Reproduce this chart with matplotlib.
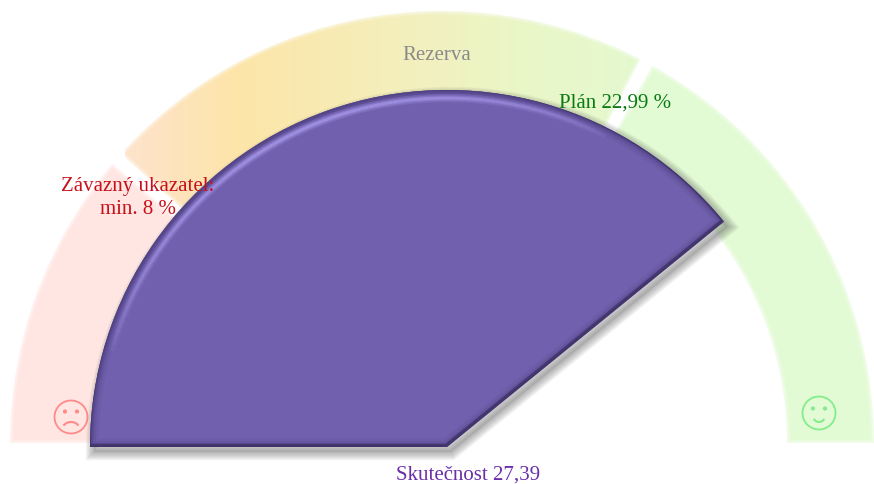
import numpy as np
import matplotlib
matplotlib.use("Agg")
import matplotlib.pyplot as plt
from matplotlib.patches import Wedge, Circle, Arc
from matplotlib.colors import LinearSegmentedColormap

# gauge values
scale_max = 35
minimum = 8
plan = 22.99
actual = 27.39

labels = ["Závazný ukazatel:\nmin. 8 %", "Rezerva", "Plán 22,99 %", "Skutečnost 27,39"]

plt.rcParams["font.family"] = ["Liberation Serif", "DejaVu Serif"]


def angle(v):
    # value -> degrees, 0 on the left going clockwise to the right
    return 180 - 180 * v / scale_max


fig = plt.figure(figsize=(8.74, 4.84), dpi=100)
ax = fig.add_axes([0, 0, 1, 1])
ax.set_xlim(0, 874)
ax.set_ylim(484, 0)
ax.axis("off")

# y axis is flipped, so wedges are drawn with negated angles
ring_c = (442, 443)
ring_r = 432
ring_w = 87
gap = 0.9


def ring(v0, v1, **kw):
    return Wedge(ring_c, ring_r, -angle(v0) + gap if v0 > 0 else -180,
                 -angle(v1) - gap if v1 < scale_max else 0,
                 width=ring_w, **kw)


ax.add_patch(ring(0, minimum, facecolor="#ffe6e2", edgecolor="none"))
ax.add_patch(ring(plan, scale_max, facecolor="#e3fbd4", edgecolor="none"))

# reserve band with its horizontal gradient
mid = ring(minimum, plan, facecolor="none", edgecolor="none")
ax.add_patch(mid)
cmap = LinearSegmentedColormap.from_list("reserve", [
    (0.0, "#fee3cc"), (0.22, "#fde5a8"), (0.52, "#f4efbc"),
    (0.78, "#e9f7c8"), (1.0, "#e4f9d0")])
img = ax.imshow(np.linspace(0, 1, 256).reshape(1, -1), cmap=cmap, aspect="auto",
                extent=(125, 650, 484, 0), zorder=1)
img.set_clip_path(mid)
ax.set_xlim(0, 874)
ax.set_ylim(484, 0)

# soften the band edges
for v0, v1 in [(0, minimum), (minimum, plan), (plan, scale_max)]:
    for lw, a in [(5, 0.2), (2.5, 0.35)]:
        ax.add_patch(ring(v0, v1, fc="none", ec="white", lw=lw, alpha=a, zorder=1.5))

# smileys
red = "#ff8a8a"
ax.add_patch(Circle((71, 417), 16.5, fc="none", ec=red, lw=1.3, zorder=2))
ax.add_patch(Circle((65, 411.5), 2.1, fc=red, ec="none", zorder=2))
ax.add_patch(Circle((77, 411.5), 2.1, fc=red, ec="none", zorder=2))
ax.add_patch(Arc((71, 430), 18, 16, theta1=-150, theta2=-30, ec=red, lw=1.5, zorder=2))

green = "#84ec8c"
ax.add_patch(Circle((819, 413), 16.5, fc="none", ec=green, lw=1.3, zorder=2))
ax.add_patch(Circle((813, 408.5), 2.1, fc=green, ec="none", zorder=2))
ax.add_patch(Circle((825, 408.5), 2.1, fc=green, ec="none", zorder=2))
ax.add_patch(Arc((819, 414.5), 13, 15, theta1=40, theta2=140, ec=green, lw=1.5, zorder=2))

# actual value sector
pie_c = (447, 447)
pie_r = 357
end = -angle(actual)

# soft shadow, offset down and right
shadow_c = (pie_c[0] + 4, pie_c[1] + 5)
for lw in np.arange(1, 13, 1.0):
    ax.add_patch(Wedge(shadow_c, pie_r, -180, end, fc="none", ec="#505050",
                       alpha=0.04, lw=lw, zorder=3))
ax.add_patch(Wedge(shadow_c, pie_r, -180, end, fc="#808080", ec="none", alpha=0.25, zorder=3))

sector = Wedge(pie_c, pie_r, -180, end, fc="#7160ad", ec="none", zorder=4)
ax.add_patch(sector)

# bevel: soft dark rim around the edge, clipped to the sector
for lw, col, a in [(12, "#5f5099", 0.25), (8, "#55478c", 0.3), (5, "#4c3f80", 0.35), (2.5, "#463a78", 0.4)]:
    rim = Wedge(pie_c, pie_r, -180, end, fc="none", ec=col, alpha=a, lw=lw, zorder=5)
    ax.add_patch(rim)
    rim.set_clip_path(sector)

# the lit side stays soft, the far side and the bottom get a darker thin edge
dark = Wedge((pie_c[0] - 1, pie_c[1] - 1.5), pie_r, -180, end, fc="none", ec="#30264f",
             alpha=0.5, lw=2.5, zorder=5)
ax.add_patch(dark)
dark.set_clip_path(sector)

# highlight along the curved edge
deg = np.linspace(-165, -62, 104)
t = np.radians(deg)
fade = np.sin(np.linspace(0, np.pi, 103)) ** 0.6
rr = pie_r - 8
xs = pie_c[0] + rr * np.cos(t)
ys = pie_c[1] + rr * np.sin(t)
for i in range(103):
    for lw, a in [(6, 0.22), (4, 0.3), (2, 0.6)]:
        seg, = ax.plot(xs[i:i + 2], ys[i:i + 2], color="#ab9df0", lw=lw,
                       alpha=a * fade[i], solid_capstyle="butt", zorder=6)
        seg.set_clip_path(sector)

# labels
fs = 15
ax.text(137.5, 198, labels[0], color="#c8101a", fontsize=fs, ha="center", va="center",
        linespacing=1.27, zorder=7)
ax.text(436.5, 56, labels[1], color="#8a8a8a", fontsize=fs, ha="center", va="center", zorder=7)
ax.text(615.5, 103, labels[2], color="#0a7a14", fontsize=fs, ha="center", va="center", zorder=7)
ax.text(468, 475, labels[3], color="#6a2ea8", fontsize=fs, ha="center", va="center", zorder=7)

fig.savefig("out.png", dpi=100)
